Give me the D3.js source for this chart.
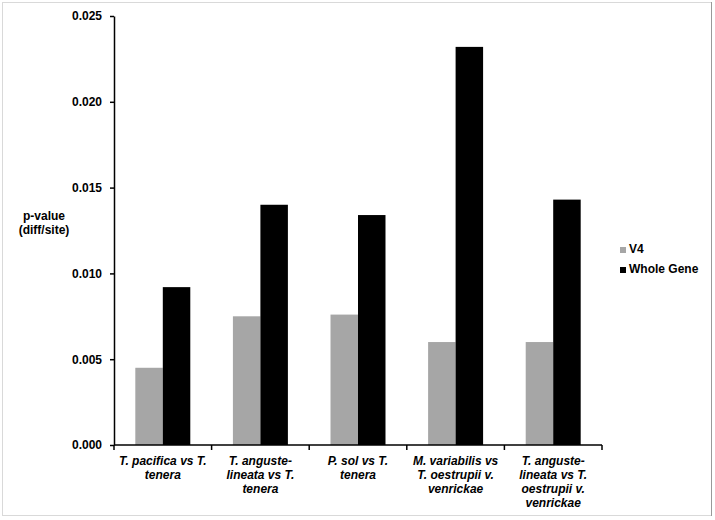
<!DOCTYPE html>
<html lang="en">
<head>
<meta charset="UTF-8">
<title>p-value chart</title>
<style>
  body { margin: 0; background: #fff; }
  svg text { font-family: "Liberation Sans", Arial, sans-serif; font-weight: bold; }
</style>
</head>
<body>
<div id="chart"></div>
<script src="https://d3js.org/d3.v7.min.js"></script>
<script>
const categories = [
  ["T. pacifica vs T.", "tenera"],
  ["T. anguste-", "lineata vs T.", "tenera"],
  ["P. sol vs T.", "tenera"],
  ["M. variabilis vs", "T. oestrupii v.", "venrickae"],
  ["T. anguste-", "lineata vs T.", "oestrupii v.", "venrickae"]
];
const seriesNames = ["V4", "Whole Gene"];
const v4Values = [0.0045, 0.0075, 0.0076, 0.0060, 0.0060];
const wholeGeneValues = [0.0092, 0.0140, 0.0134, 0.0232, 0.0143];
const yTicks = [0, 0.005, 0.010, 0.015, 0.020, 0.025];
const yTitle = ["p-value", "(diff/site)"];
const colors = ["#a6a6a6", "#000000"];

const W = 715, H = 520;
const plot = { left: 114, right: 602, top: 16, bottom: 445 };

const svg = d3.select("#chart").append("svg")
  .attr("width", W).attr("height", H);

// outer frame
svg.append("rect")
  .attr("x", 2.5).attr("y", 2.5)
  .attr("width", 709).attr("height", 513)
  .attr("fill", "white")
  .attr("stroke", "#d9d9d9");
svg.append("line")
  .attr("x1", 711.5).attr("x2", 711.5).attr("y1", 2).attr("y2", 516)
  .attr("stroke", "#999");

const idx = d3.range(categories.length);
const x0 = d3.scaleBand().domain(idx).range([plot.left, plot.right]).paddingInner(0);
const x1 = d3.scaleBand().domain(seriesNames).range([0, x0.bandwidth()]).paddingOuter(0.775);
const y = d3.scaleLinear().domain([0, 0.025]).range([plot.bottom, plot.top]);

const rows = idx.map(i => ({ i, vals: [v4Values[i], wholeGeneValues[i]] }));

const groups = svg.append("g").selectAll("g")
  .data(rows).join("g")
  .attr("transform", d => `translate(${x0(d.i)},0)`);

groups.selectAll("rect")
  .data(d => d.vals.map((v, k) => ({ k, v })))
  .join("rect")
  .attr("x", d => x1(seriesNames[d.k]))
  .attr("width", x1.bandwidth())
  .attr("y", d => y(d.v))
  .attr("height", d => y(0) - y(d.v))
  .attr("fill", d => colors[d.k]);

// y axis
const yAxis = svg.append("g")
  .attr("transform", `translate(${plot.left},0)`)
  .call(d3.axisLeft(y).tickValues(yTicks).tickFormat(d3.format(".3f")).tickSize(4).tickPadding(8).tickSizeOuter(0));
yAxis.select(".domain").attr("stroke", "#000").attr("stroke-width", 1.5);
yAxis.selectAll(".tick line").attr("stroke", "#000").attr("stroke-width", 1.5);
yAxis.selectAll(".tick text")
  .attr("fill", "#000")
  .style("font-size", "12px")
  .style("font-family", "'Liberation Sans', Arial, sans-serif")
  .style("font-weight", "bold");

// x axis, ticks at band boundaries
const xAxis = svg.append("g").attr("transform", `translate(0,${plot.bottom})`);
xAxis.append("line")
  .attr("x1", plot.left).attr("x2", plot.right)
  .attr("stroke", "#000").attr("stroke-width", 1.5);
xAxis.selectAll(".xtick")
  .data(idx.concat([categories.length]))
  .join("line")
  .attr("class", "xtick")
  .attr("x1", d => d < categories.length ? x0(d) : plot.right)
  .attr("x2", d => d < categories.length ? x0(d) : plot.right)
  .attr("y1", 0).attr("y2", 5)
  .attr("stroke", "#000").attr("stroke-width", 1.5);

// category labels, one text per line
const labelLines = idx.flatMap(i => categories[i].map((t, k) => ({ i, k, t })));
svg.append("g").selectAll("text")
  .data(labelLines).join("text")
  .attr("x", d => x0(d.i) + x0.bandwidth() / 2)
  .attr("y", d => 465 + d.k * 14)
  .attr("text-anchor", "middle")
  .style("font-size", "12px")
  .style("font-style", "italic")
  .text(d => d.t);

// y title
svg.append("g").selectAll("text")
  .data(yTitle).join("text")
  .attr("x", 44)
  .attr("y", (d, k) => 220 + k * 14)
  .attr("text-anchor", "middle")
  .style("font-size", "12px")
  .text(d => d);

// legend
const legend = svg.append("g").attr("transform", "translate(620,247)");
const item = legend.selectAll("g")
  .data(seriesNames).join("g")
  .attr("transform", (d, k) => `translate(0,${k * 20})`);
item.append("rect")
  .attr("width", 6).attr("height", 6)
  .attr("fill", (d, k) => colors[k]);
item.append("text")
  .attr("x", 9).attr("y", 6)
  .style("font-size", "12px")
  .text(d => d);
</script>
</body>
</html>
